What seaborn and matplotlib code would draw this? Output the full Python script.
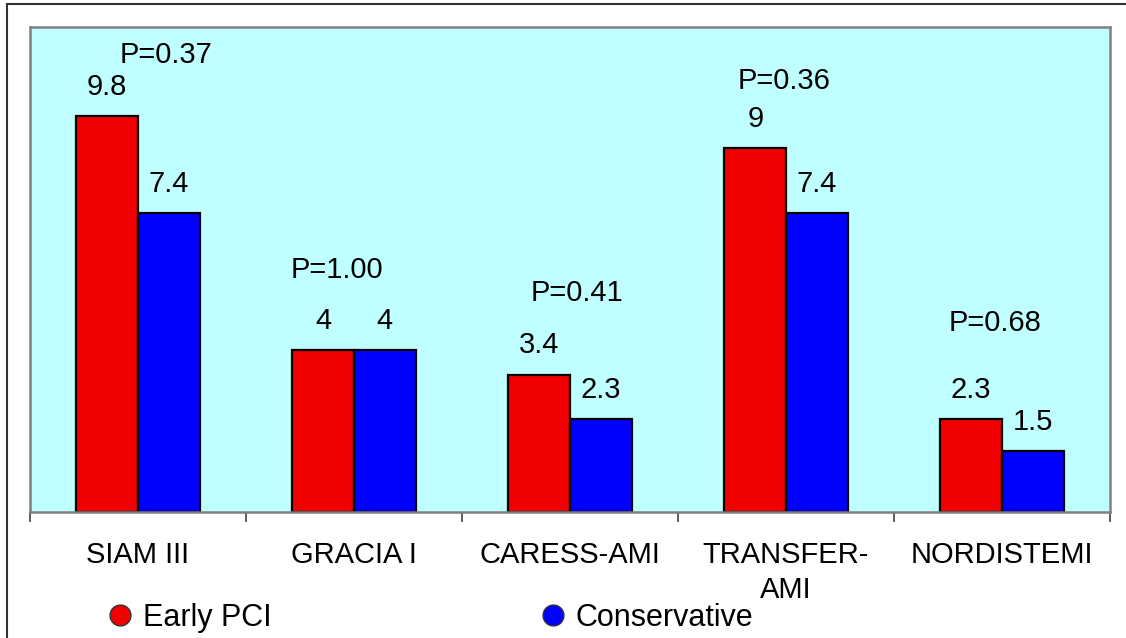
import matplotlib

matplotlib.use("Agg")
import matplotlib.pyplot as plt
import pandas as pd
import seaborn as sns
from matplotlib.lines import Line2D

TRIALS = ["SIAM III", "GRACIA I", "CARESS-AMI", "TRANSFER-\nAMI", "NORDISTEMI"]
GROUPS = ["Early PCI", "Conservative"]
EARLY_PCI = [9.8, 4, 3.4, 9, 2.3]
CONSERVATIVE = [7.4, 4, 2.3, 7.4, 1.5]
P_LABELS = ["P=0.37", "P=1.00", "P=0.41", "P=0.36", "P=0.68"]
# where each P label sits (x offset from category centre, y in data units)
P_DX = [0.13, -0.08, 0.03, -0.01, -0.03]
P_Y = [11.3, 5.99, 5.42, 10.67, 4.68]

COLORS = ["#F00000", "#0000FF"]
FONT = "Liberation Sans"
FS = 21

if __name__ == "__main__":
    df = pd.DataFrame(
        {
            "trial": TRIALS * 2,
            "value": EARLY_PCI + CONSERVATIVE,
            "group": [GROUPS[0]] * len(TRIALS) + [GROUPS[1]] * len(TRIALS),
        }
    )

    sns.set_style("white")
    plt.rcParams["font.family"] = [FONT, "DejaVu Sans"]
    plt.rcParams["text.color"] = "black"
    plt.rcParams["xtick.color"] = "#404040"
    plt.rcParams["xtick.labelcolor"] = "black"
    plt.rcParams["xtick.bottom"] = True

    fig = plt.figure(figsize=(11.26, 6.38), dpi=100)
    ax = fig.add_axes([30 / 1126, 126 / 638, 1080 / 1126, 485 / 638])
    ax.set_facecolor("#C0FFFF")

    sns.barplot(
        data=df,
        x="trial",
        y="value",
        hue="group",
        hue_order=GROUPS,
        order=TRIALS,
        palette=COLORS,
        width=0.57,
        gap=0,
        edgecolor="black",
        linewidth=1.6,
        saturation=1,
        legend=False,
        ax=ax,
    )

    for cont in ax.containers:
        ax.bar_label(cont, fmt="%g", padding=11, fontsize=FS, color="black")

    for i, lab in enumerate(P_LABELS):
        ax.text(i + P_DX[i], P_Y[i], lab, ha="center", va="center",
                fontsize=FS, color="black")

    ax.set_xlim(-0.5, len(TRIALS) - 0.5)
    ax.set_ylim(0, 12)
    ax.set_yticks([])
    ax.set_xlabel("")
    ax.set_ylabel("")
    ax.set_xticks(range(len(TRIALS)))
    ax.set_xticklabels(TRIALS, fontsize=FS, linespacing=1.3, color="black")
    ax.tick_params(axis="x", which="major", length=0, pad=21)
    ax.set_xticks([i - 0.5 for i in range(len(TRIALS) + 1)], minor=True)
    ax.tick_params(axis="x", which="minor", bottom=True, length=7, width=1.2,
                   color="#404040")

    for side, sp in ax.spines.items():
        sp.set_visible(True)
        sp.set_color("#808080")
        sp.set_linewidth(1.8)

    handles = [
        Line2D([], [], marker="o", linestyle="", markersize=15,
               markerfacecolor=c, markeredgecolor="#333333", markeredgewidth=1)
        for c in COLORS
    ]
    fig.legend(
        handles,
        GROUPS,
        loc="center left",
        bbox_to_anchor=(105 / 1126, 20 / 638),
        ncol=2,
        frameon=False,
        fontsize=22,
        handlelength=1,
        handletextpad=0.25,
        columnspacing=8.7,
        borderpad=0,
        borderaxespad=0,
    )

    # outer frame (top and left edges visible)
    fig.add_artist(Line2D([7 / 1126, 1], [1 - 4 / 638, 1 - 4 / 638],
                          transform=fig.transFigure, color="#333333", lw=1.5))
    fig.add_artist(Line2D([7 / 1126, 7 / 1126], [0, 1 - 4 / 638],
                          transform=fig.transFigure, color="#333333", lw=1.5))

    fig.savefig("out.png", dpi=100)
